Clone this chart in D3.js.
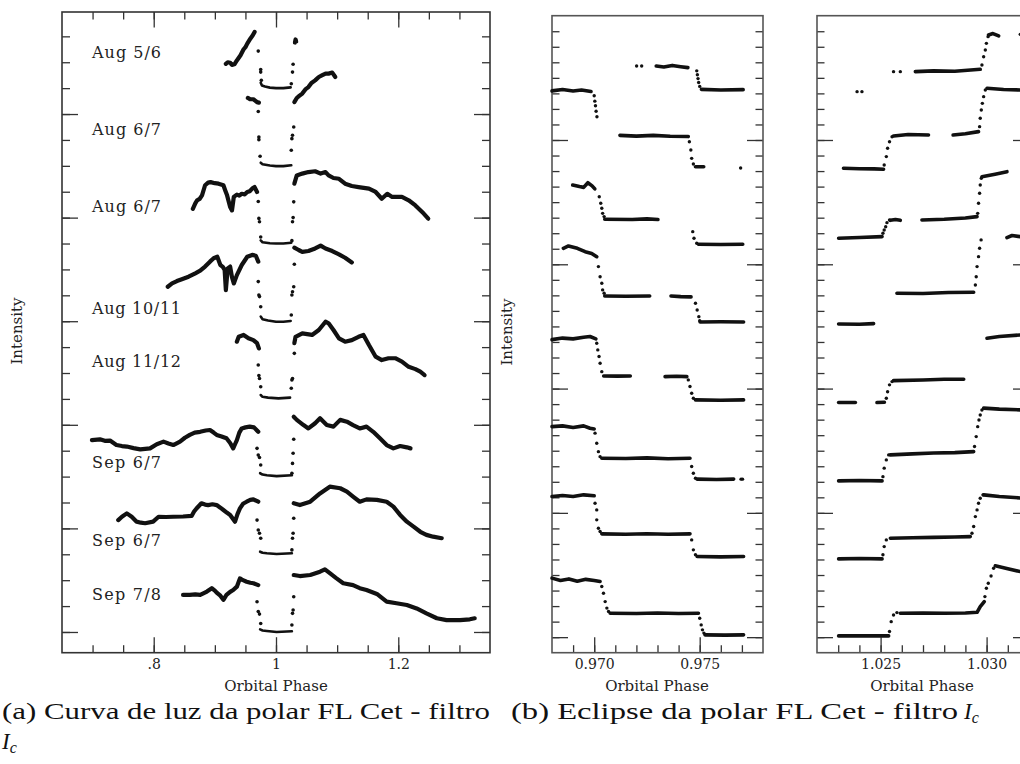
<!DOCTYPE html>
<html lang="en">
<head>
<meta charset="utf-8">
<title>FL Cet - curvas de luz</title>
<script src="https://cdn.jsdelivr.net/npm/d3@7"></script>
<style>
  body { margin: 0; background: #fff; }
  svg { display: block; }
  .pg { font-family: "DejaVu Serif", serif; fill: #222; }
  .cap { font-family: "Liberation Serif", "DejaVu Serif", serif; fill: #111; }
</style>
</head>
<body>
<script>
// ---------- data ----------
var nights = ["Aug 5/6", "Aug 6/7", "Aug 6/7", "Aug 10/11", "Aug 11/12", "Sep 6/7", "Sep 6/7", "Sep 7/8"];
var nightLabelAt = [22.39, 19.42, 16.45, 12.51, 10.46, 6.54, 3.55, 1.47];

// panel (a): [phase, intensity] per night
var preA = [
  [[0.918,21.94],[0.921,22.0],[0.925,21.98],[0.928,21.9],[0.932,21.92],[0.936,22.07],[0.942,22.27],[0.947,22.5],[0.95,22.58],[0.953,22.72],[0.958,22.91],[0.962,23.04],[0.965,23.17]],
  [[0.954,20.62],[0.958,20.57],[0.963,20.57],[0.967,20.5],[0.969,20.46],[0.972,20.44]],
  [[0.864,16.34],[0.868,16.55],[0.871,16.67],[0.875,16.72],[0.879,16.86],[0.884,17.25],[0.889,17.35],[0.893,17.37],[0.9,17.33],[0.906,17.31],[0.914,17.25],[0.917,17.05],[0.92,16.86],[0.925,16.41],[0.928,16.28],[0.931,16.8],[0.936,16.89],[0.94,16.85],[0.944,16.92],[0.949,16.9],[0.953,16.99],[0.957,17.02],[0.961,17.12],[0.965,17.18],[0.969,16.99]],
  [[0.823,13.33],[0.83,13.46],[0.838,13.55],[0.846,13.62],[0.857,13.72],[0.868,13.85],[0.876,13.95],[0.884,14.11],[0.892,14.3],[0.898,14.43],[0.904,14.49],[0.909,14.17],[0.913,14.1],[0.916,13.98],[0.918,13.2],[0.921,14.04],[0.925,14.11],[0.928,13.7],[0.931,13.46],[0.936,13.78],[0.944,14.17],[0.953,14.49],[0.961,14.56],[0.967,14.53],[0.971,14.3]],
  [[0.936,11.21],[0.939,11.4],[0.947,11.47],[0.955,11.34],[0.963,11.27],[0.969,11.15],[0.972,10.95]],
  [[0.699,7.41],[0.712,7.44],[0.72,7.38],[0.7285,7.39],[0.739,7.22],[0.748,7.18],[0.756,7.16],[0.767,7.1],[0.778,7.05],[0.794,7.09],[0.805,7.25],[0.816,7.35],[0.824,7.28],[0.832,7.22],[0.843,7.35],[0.851,7.5],[0.859,7.61],[0.867,7.7],[0.876,7.73],[0.885,7.78],[0.892,7.8],[0.898,7.7],[0.903,7.61],[0.911,7.55],[0.919,7.48],[0.925,7.3],[0.93,7.09],[0.933,7.25],[0.936,7.41],[0.94,7.7],[0.944,7.86],[0.95,7.9],[0.957,7.93],[0.964,7.9],[0.971,7.73]],
  [[0.742,4.32],[0.748,4.45],[0.756,4.58],[0.764,4.45],[0.772,4.26],[0.779,4.22],[0.786,4.2],[0.799,4.26],[0.808,4.45],[0.82,4.44],[0.832,4.45],[0.848,4.46],[0.862,4.48],[0.866,4.65],[0.87,4.77],[0.878,4.97],[0.884,4.92],[0.889,4.9],[0.896,4.93],[0.903,4.9],[0.909,4.8],[0.914,4.71],[0.92,4.6],[0.925,4.52],[0.933,4.26],[0.937,4.55],[0.941,4.77],[0.946,4.95],[0.952,5.03],[0.958,5.1],[0.963,5.12],[0.971,5.03]],
  [[0.848,1.43],[0.859,1.43],[0.868,1.45],[0.876,1.43],[0.882,1.5],[0.887,1.56],[0.895,1.69],[0.9,1.6],[0.903,1.52],[0.909,1.4],[0.914,1.24],[0.919,1.43],[0.925,1.55],[0.93,1.62],[0.936,1.75],[0.941,2.07],[0.946,2.0],[0.952,1.94],[0.958,1.9],[0.963,1.88],[0.971,1.81]]
];
var ingressA = [
  [[0.971,22.43],[0.975,21.72],[0.975,21.62],[0.976,21.3]],
  [[0.971,20.1],[0.972,19.11],[0.972,19.01],[0.974,18.37]],
  [[0.971,16.62],[0.972,15.97],[0.973,15.84],[0.975,15.25]],
  [[0.971,13.53],[0.972,13.01],[0.973,12.95],[0.975,12.56]],
  [[0.971,10.31],[0.972,9.9],[0.973,9.79],[0.975,9.47]],
  [[0.969,7.09],[0.971,6.83],[0.973,6.74],[0.975,6.45]],
  [[0.969,4.32],[0.971,3.94],[0.973,3.81],[0.975,3.62]],
  [[0.969,1.17],[0.971,0.79],[0.973,0.69],[0.975,0.33]]
];
var bottomA = [
  [[0.975,21.21],[0.977,21.1],[0.982,21.06],[0.99,21.02],[1.0,21.0],[1.012,21.0],[1.024,21.03]],
  [[0.975,18.12],[0.978,18.06],[0.99,18.01],[1.0,17.99],[1.012,17.99],[1.025,18.02]],
  [[0.975,15.12],[0.978,15.05],[0.99,15.01],[1.0,15.0],[1.012,15.0],[1.025,15.03]],
  [[0.975,12.18],[0.978,12.08],[0.987,12.03],[1.0,11.98],[1.012,11.98],[1.024,12.01]],
  [[0.975,9.15],[0.978,9.08],[0.987,9.05],[1.004,9.02],[1.023,9.05]],
  [[0.974,6.13],[0.978,6.08],[0.985,6.05],[1.001,6.02],[1.026,6.05]],
  [[0.974,3.1],[0.978,3.06],[0.985,3.04],[1.001,3.01],[1.026,3.04]],
  [[0.974,0.1],[0.978,0.06],[0.985,0.04],[1.001,0.0],[1.026,0.03]]
];
var egressA = [
  [[1.025,21.17],[1.027,21.62],[1.028,21.92]],
  [[1.025,18.6],[1.026,19.05],[1.027,19.18],[1.029,19.5]],
  [[1.026,15.11],[1.027,15.84],[1.028,16.0],[1.029,16.61]],
  [[1.025,12.24],[1.026,13.01],[1.027,13.14],[1.029,13.33],[1.03,14.2]],
  [[1.025,9.41],[1.026,9.73],[1.027,9.79],[1.03,10.76]],
  [[1.026,6.13],[1.027,6.51],[1.028,6.9],[1.029,7.44]],
  [[1.026,3.17],[1.027,3.62],[1.028,3.81],[1.029,4.39]],
  [[1.026,0.27],[1.027,0.72],[1.028,0.85],[1.029,1.36]]
];
var postA = [
  [[1.031,22.76],[1.032,22.88],[1.033,22.8]],
  [[1.03,20.46],[1.034,20.62],[1.038,20.7],[1.043,20.79],[1.048,20.95],[1.053,21.04],[1.058,21.2],[1.064,21.3],[1.07,21.43],[1.075,21.49],[1.081,21.56],[1.086,21.56],[1.092,21.6],[1.097,21.43]],
  [[1.03,17.31],[1.034,17.63],[1.043,17.7],[1.053,17.76],[1.064,17.79],[1.073,17.7],[1.081,17.76],[1.086,17.63],[1.094,17.53],[1.103,17.5],[1.113,17.31],[1.124,17.22],[1.135,17.18],[1.152,17.12],[1.163,16.99],[1.173,16.73],[1.182,16.92],[1.19,16.8],[1.206,16.8],[1.217,16.67],[1.228,16.47],[1.239,16.22],[1.249,15.96]],
  [[1.03,14.84],[1.037,14.75],[1.043,14.68],[1.053,14.71],[1.064,14.81],[1.073,14.92],[1.081,14.81],[1.092,14.71],[1.103,14.58],[1.113,14.45],[1.124,14.27]],
  [[1.03,11.15],[1.032,11.4],[1.043,11.53],[1.059,11.47],[1.07,11.66],[1.081,11.98],[1.086,11.92],[1.094,11.66],[1.103,11.34],[1.113,11.21],[1.124,11.27],[1.135,11.4],[1.143,11.47],[1.152,11.08],[1.163,10.63],[1.173,10.5],[1.184,10.57],[1.195,10.57],[1.206,10.44],[1.217,10.24],[1.228,10.15],[1.236,10.05],[1.243,9.92]],
  [[1.029,8.31],[1.034,8.19],[1.045,7.99],[1.053,7.86],[1.064,8.06],[1.072,8.25],[1.083,7.99],[1.094,7.93],[1.105,8.19],[1.116,8.12],[1.126,7.99],[1.137,7.86],[1.148,7.93],[1.159,7.73],[1.17,7.48],[1.181,7.22],[1.192,7.09],[1.203,7.18],[1.214,7.13],[1.22,7.09]],
  [[1.029,4.97],[1.039,4.9],[1.056,5.03],[1.072,5.35],[1.088,5.61],[1.105,5.55],[1.116,5.42],[1.126,5.23],[1.137,5.03],[1.148,5.12],[1.165,5.1],[1.181,5.03],[1.192,4.84],[1.203,4.52],[1.214,4.26],[1.225,4.07],[1.236,3.87],[1.246,3.75],[1.257,3.68],[1.271,3.62]],
  [[1.029,2.2],[1.039,2.16],[1.056,2.2],[1.072,2.33],[1.08,2.42],[1.088,2.27],[1.099,2.07],[1.11,1.88],[1.126,1.81],[1.137,1.69],[1.148,1.62],[1.165,1.47],[1.181,1.17],[1.197,1.11],[1.214,1.04],[1.23,0.91],[1.246,0.72],[1.263,0.53],[1.279,0.46],[1.301,0.46],[1.317,0.49],[1.325,0.53]]
];

// panel (b), ingress zoom: continuous runs and isolated points per night
var ingRuns = [
  [[[0.97294,36.76],[0.9733,36.7],[0.9737,36.8],[0.9741,36.72],[0.97444,36.66]], [[0.97508,35.26],[0.976,35.22],[0.97706,35.24]]],
  [[[0.968,35.16],[0.9685,35.25],[0.969,35.15],[0.9694,35.22],[0.96985,35.12]], [[0.97122,32.3],[0.972,32.25],[0.9728,32.3],[0.9736,32.24],[0.97446,32.22]], [[0.9748,30.28],[0.97519,30.28]]],
  [[[0.96898,29.1],[0.9693,29.0],[0.9695,28.95],[0.9697,29.25],[0.9699,29.05],[0.97003,28.85]], [[0.9705,26.9],[0.9718,26.88],[0.9725,26.92],[0.97302,26.88]], [[0.97494,25.29],[0.976,25.27],[0.97704,25.29]]],
  [[[0.96854,25.03],[0.96878,25.18],[0.9692,25.03],[0.96957,24.81],[0.96988,24.7],[0.97012,24.49]], [[0.9705,21.96],[0.9715,21.94],[0.97263,21.96]], [[0.97364,21.96],[0.9741,21.92],[0.97459,21.9]], [[0.97502,20.29],[0.976,20.3],[0.97708,20.29]]],
  [[[0.968,19.15],[0.9685,19.25],[0.969,19.2],[0.9695,19.3],[0.9698,19.35],[0.97008,19.2]], [[0.97045,16.81],[0.9711,16.8],[0.97171,16.81]], [[0.97336,16.77],[0.9739,16.79],[0.97439,16.77]], [[0.9748,15.27],[0.976,15.25],[0.97708,15.27]]],
  [[[0.968,13.55],[0.9685,13.6],[0.969,13.5],[0.9695,13.6],[0.9698,13.45],[0.97,13.4]], [[0.97036,11.52],[0.9715,11.5],[0.9725,11.54],[0.9735,11.48],[0.97454,11.52]], [[0.97488,10.17],[0.9758,10.15],[0.97661,10.17]]],
  [[[0.968,9.05],[0.9685,9.12],[0.969,9.05],[0.9695,9.16],[0.97,9.1]], [[0.97036,6.65],[0.9715,6.62],[0.9725,6.66],[0.9735,6.62],[0.97454,6.65]], [[0.97488,5.19],[0.976,5.17],[0.97708,5.19]]],
  [[[0.968,3.8],[0.9684,3.65],[0.9688,3.75],[0.9692,3.6],[0.9696,3.72],[0.97,3.65],[0.97028,3.58]], [[0.97076,1.54],[0.972,1.52],[0.973,1.56],[0.974,1.52],[0.97494,1.54]], [[0.97525,0.15],[0.9762,0.13],[0.97708,0.15]]]
];
var ingPts = [
  [[0.97201,36.76],[0.97225,36.76],[0.97486,36.45],[0.97489,36.2],[0.97492,35.95],[0.97495,35.7],[0.975,35.45]],
  [[0.97,34.85],[0.97003,34.5],[0.97006,34.2],[0.97009,33.85],[0.97013,33.5],[0.97451,31.89],[0.97458,31.36],[0.97462,30.82],[0.9747,30.45],[0.97694,30.2]],
  [[0.97024,28.35],[0.97031,27.93],[0.97036,27.61],[0.9704,27.28],[0.97047,27.07],[0.97467,26.1],[0.97473,25.68],[0.97486,25.35]],
  [[0.9702,23.85],[0.97028,23.2],[0.97036,22.78],[0.9704,22.35],[0.97047,22.14],[0.9748,21.49],[0.97488,21.06],[0.97496,20.63],[0.975,20.37]],
  [[0.97012,18.92],[0.97017,18.49],[0.97023,18.06],[0.97028,17.63],[0.97036,17.09],[0.97446,16.56],[0.97454,16.13],[0.97462,15.7],[0.9747,15.38]],
  [[0.97004,13.13],[0.97012,12.48],[0.9702,11.94],[0.97028,11.62],[0.97462,10.98],[0.9747,10.55],[0.9748,10.23],[0.97696,10.17],[0.97703,10.17]],
  [[0.97004,8.62],[0.97012,8.19],[0.97012,7.55],[0.9702,7.01],[0.97028,6.8],[0.97462,6.26],[0.9747,5.62],[0.9748,5.3]],
  [[0.97036,3.26],[0.97044,2.83],[0.97052,2.29],[0.9706,1.87],[0.97068,1.65],[0.975,1.22],[0.97507,0.79],[0.97513,0.47],[0.9752,0.26]]
];

// panel (b), egress zoom
var egrRuns = [
  [[[1.02664,36.4],[1.0275,36.45],[1.0285,36.42],[1.0297,36.55]], [[1.03009,38.76],[1.0303,38.85],[1.03057,38.7]]],
  [[[1.02325,30.18],[1.024,30.15],[1.0247,30.14],[1.02514,30.12]], [[1.02561,32.26],[1.0263,32.35],[1.02726,32.32]], [[1.02842,32.32],[1.029,32.4],[1.02962,32.54]], [[1.03002,35.33],[1.0308,35.25],[1.0316,35.22]]],
  [[[1.02302,25.68],[1.024,25.72],[1.02507,25.78]], [[1.02546,26.83],[1.0257,26.88],[1.02593,26.83]], [[1.02695,26.85],[1.028,26.9],[1.029,26.98],[1.02955,27.07]], [[1.02978,29.64],[1.0304,29.8],[1.03096,29.96]]],
  [[[1.02302,20.16],[1.024,20.14],[1.02467,20.18]], [[1.02577,22.14],[1.027,22.12],[1.0282,22.18],[1.02939,22.2]], [[1.03096,25.72],[1.0312,25.85],[1.03159,25.78]]],
  [[[1.02302,15.1],[1.02381,15.1]], [[1.02483,15.1],[1.02518,15.12]], [[1.02561,16.51],[1.027,16.55],[1.028,16.6],[1.02892,16.6]], [[1.03002,19.24],[1.0306,19.35],[1.03159,19.45]]],
  [[[1.02302,10.06],[1.024,10.08],[1.02507,10.06]], [[1.02546,11.73],[1.0265,11.8],[1.0275,11.85],[1.0285,11.88],[1.02939,11.94]], [[1.02986,14.74],[1.0306,14.68],[1.03159,14.63]]],
  [[[1.02302,5.04],[1.024,5.06],[1.02507,5.04]], [[1.02546,6.37],[1.0265,6.4],[1.0275,6.42],[1.0285,6.45],[1.02923,6.47]], [[1.02986,9.16],[1.0306,9.05],[1.03159,8.96]]],
  [[[1.02302,0.08],[1.0242,0.08],[1.02538,0.08]], [[1.02593,1.54],[1.027,1.56],[1.028,1.54],[1.029,1.56],[1.02955,1.6],[1.0297,1.97],[1.02989,2.29]], [[1.03041,4.59],[1.031,4.4],[1.03159,4.22]]]
];
var egrPts = [
  [[1.02389,35.11],[1.02412,35.11],[1.02561,36.4],[1.02593,36.4],[1.02978,36.83],[1.02986,37.36],[1.02994,37.79],[1.02999,38.22],[1.03007,38.65],[1.03159,38.8]],
  [[1.02517,30.39],[1.02527,30.93],[1.02533,31.47],[1.02542,31.89],[1.02554,32.21],[1.02967,32.86],[1.0297,33.4],[1.02975,33.93],[1.0298,34.36],[1.02986,34.79],[1.02994,35.22]],
  [[1.02511,26.0],[1.02517,26.21],[1.02524,26.42],[1.0253,26.68],[1.02542,26.85],[1.02958,27.28],[1.02962,27.93],[1.02967,28.57],[1.0297,29.1],[1.02975,29.54]],
  [[1.02947,22.67],[1.02951,23.2],[1.02955,23.85],[1.02962,24.49],[1.02967,25.03],[1.02974,25.57]],
  [[1.02527,15.38],[1.02533,15.8],[1.02542,16.24],[1.02554,16.45]],
  [[1.02511,10.33],[1.02517,10.88],[1.02527,11.41],[1.02538,11.73],[1.02943,12.27],[1.02951,12.91],[1.02958,13.55],[1.02964,13.98],[1.0297,14.3],[1.02978,14.62]],
  [[1.02511,5.3],[1.02517,5.83],[1.02527,6.26],[1.02931,6.69],[1.02939,7.12],[1.02947,7.76],[1.02955,8.19],[1.02962,8.62],[1.0297,8.94],[1.02983,9.16]],
  [[1.02542,0.36],[1.0255,1.0],[1.02561,1.43],[1.02577,1.58],[1.02992,2.61],[1.02999,3.15],[1.03008,3.47],[1.03021,3.94],[1.03033,4.44]]
];

// ticks
var phaseMinorA = [0.7,0.75,0.8,0.85,0.9,0.95,1.0,1.05,1.1,1.15,1.2,1.25,1.3];
var phaseMajorA = [0.8, 1.0, 1.2];
var phaseLabelsA = [".8", "1", "1.2"];
var phaseMinorB1 = [0.969,0.970,0.971,0.972,0.973,0.974,0.975,0.976,0.977];
var phaseMajorB1 = [0.970, 0.975];
var phaseLabelsB1 = ["0.970", "0.975"];
var phaseMinorB2 = [1.023,1.024,1.025,1.026,1.027,1.028,1.029,1.030,1.031];
var phaseMajorB2 = [1.025, 1.030];
var phaseLabelsB2 = ["1.025", "1.030"];

// ---------- drawing ----------
var svg = d3.select("body").append("svg").attr("width", 1020).attr("height", 764);
svg.append("rect").attr("width", 1020).attr("height", 764).attr("fill", "#fff");

var xa = d3.scaleLinear().domain([0.65, 1.35]).range([62, 490]);
var ya = d3.scaleLinear().domain([-0.8, 23.94]).range([652.7, 12]);
var xb1 = d3.scaleLinear().domain([0.968, 0.978]).range([552, 763]);
var xb2 = d3.scaleLinear().domain([1.022, 1.032]).range([817, 1029]);
var yb = d3.scaleLinear().domain([-1, 40]).range([652.7, 15.7]);

function ax(g, axis, vals, size, fmt, pad) {
  g.call(axis.tickValues(vals).tickSize(size).tickPadding(pad || 3).tickFormat(fmt || ""));
  g.attr("font-family", null).attr("font-size", null);
  g.select(".domain").remove();
  g.selectAll(".tick line").attr("stroke", "#333").attr("stroke-width", 1.3);
  g.selectAll(".tick text").attr("class", "pg").style("font-size", "14px").attr("fill", "#222");
}

function panel(x, y, opt) {
  var g = svg.append("g");
  var x0 = x.range()[0], x1 = x.range()[1], y0 = y.range()[1], y1 = y.range()[0];
  var yMinor = opt.yMinor, yMajor = opt.yMajor;
  // left / right ticks
  ax(g.append("g").attr("transform", "translate(" + x0 + ",0)"), d3.axisLeft(y), yMinor, -opt.tMinor);
  ax(g.append("g").attr("transform", "translate(" + x0 + ",0)"), d3.axisLeft(y), yMajor, -opt.tMajor);
  ax(g.append("g").attr("transform", "translate(" + x1 + ",0)"), d3.axisRight(y), yMinor, -opt.tMinor);
  ax(g.append("g").attr("transform", "translate(" + x1 + ",0)"), d3.axisRight(y), yMajor, -opt.tMajor);
  // bottom ticks + labels
  ax(g.append("g").attr("transform", "translate(0," + y1 + ")"), d3.axisBottom(x), opt.xMinor, -7.5);
  ax(g.append("g").attr("transform", "translate(0," + y1 + ")"), d3.axisBottom(x), opt.xMajor, -15.5,
     function(d, i) { return opt.xLabels[i]; }, 6);
  if (opt.topTicks) {
    ax(g.append("g").attr("transform", "translate(0," + y0 + ")"), d3.axisTop(x), opt.xMinor, -7.5);
    ax(g.append("g").attr("transform", "translate(0," + y0 + ")"), d3.axisTop(x), opt.xMajor, -15.5);
  }
  g.append("rect").attr("x", x0).attr("y", y0).attr("width", x1 - x0).attr("height", y1 - y0)
    .attr("fill", "none").attr("stroke", opt.frame).attr("stroke-width", 1.6);
  g.append("text").attr("class", "pg").style("font-size", "15px")
    .attr("x", opt.titleX).attr("y", 691).attr("text-anchor", "middle")
    .text("Orbital Phase");
  return g;
}

var pa = panel(xa, ya, { yMinor: d3.range(0, 24), yMajor: [0, 4, 8, 12, 16, 20], tMinor: 8, tMajor: 16,
  xMinor: phaseMinorA, xMajor: phaseMajorA, xLabels: phaseLabelsA, topTicks: true, frame: "#333", titleX: 276 });
var pb1 = panel(xb1, yb, { yMinor: d3.range(0, 40), yMajor: [0, 8, 16, 24, 32], tMinor: 7.5, tMajor: 16,
  xMinor: phaseMinorB1, xMajor: phaseMajorB1, xLabels: phaseLabelsB1, topTicks: false, frame: "#555", titleX: 657 });
var pb2 = panel(xb2, yb, { yMinor: d3.range(0, 40), yMajor: [0, 8, 16, 24, 32], tMinor: 7.5, tMajor: 16,
  xMinor: phaseMinorB2, xMajor: phaseMajorB2, xLabels: phaseLabelsB2, topTicks: false, frame: "#555", titleX: 922 });

// y titles
[[22, 331], [512, 332]].forEach(function(p) {
  svg.append("text").attr("class", "pg").style("font-size", "15px")
    .attr("transform", "translate(" + p[0] + "," + p[1] + ") rotate(-90)")
    .attr("text-anchor", "middle").text("Intensity");
});

// panel (a) curves
var lineA = d3.line().x(function(d) { return xa(d[0]); }).y(function(d) { return ya(d[1]); });
var curvesA = pa.append("g").attr("fill", "none").attr("stroke", "#111")
  .attr("stroke-linejoin", "round").attr("stroke-linecap", "round");
preA.concat(postA).forEach(function(c) {
  curvesA.append("path").attr("d", lineA(c)).attr("stroke-width", 4.2);
});
bottomA.forEach(function(c) {
  curvesA.append("path").attr("d", lineA(c)).attr("stroke-width", 2.6);
});
ingressA.concat(egressA).forEach(function(c) {
  pa.selectAll(null).data(c).enter().append("circle")
    .attr("cx", function(d) { return xa(d[0]); }).attr("cy", function(d) { return ya(d[1]); })
    .attr("r", 1.8).attr("fill", "#111");
});
nights.forEach(function(n, i) {
  pa.append("text").attr("class", "pg").style("font-size", "16px")
    .attr("x", 92).attr("y", ya(nightLabelAt[i])).attr("dy", "0.35em")
    .attr("textLength", n.length * 10 - 1).attr("lengthAdjust", "spacing")
    .text(n);
});

// panel (b) curves
function drawZoom(g, x, runs, pts) {
  var line = d3.line().x(function(d) { return x(d[0]); }).y(function(d) { return yb(d[1]); });
  var cg = g.append("g").attr("fill", "none").attr("stroke", "#111").attr("stroke-width", 3.6)
    .attr("stroke-linejoin", "round").attr("stroke-linecap", "round");
  runs.forEach(function(night) {
    night.forEach(function(r) { cg.append("path").attr("d", line(r)); });
  });
  pts.forEach(function(night) {
    g.selectAll(null).data(night).enter().append("circle")
      .attr("cx", function(d) { return x(d[0]); }).attr("cy", function(d) { return yb(d[1]); })
      .attr("r", 1.7).attr("fill", "#111");
  });
}
drawZoom(pb1, xb1, ingRuns, ingPts);
drawZoom(pb2, xb2, egrRuns, egrPts);

// captions
svg.append("text").attr("class", "cap").style("font-size", "23px").attr("x", 2).attr("y", 719)
  .attr("textLength", 488).attr("lengthAdjust", "spacingAndGlyphs")
  .text("(a) Curva de luz da polar FL Cet - filtro");
var l2 = svg.append("text").attr("class", "cap").style("font-size", "23px").attr("x", 2).attr("y", 749);
l2.append("tspan").attr("font-style", "italic").text("I");
l2.append("tspan").style("font-size", "16px").attr("dy", 4).attr("font-style", "italic").text("c");

var cb = svg.append("text").attr("class", "cap").style("font-size", "23px").attr("y", 719);
cb.append("tspan").attr("x", 511).attr("textLength", 447).attr("lengthAdjust", "spacingAndGlyphs")
  .text("(b) Eclipse da polar FL Cet - filtro");
cb.append("tspan").attr("x", 964).attr("font-style", "italic").text("I");
cb.append("tspan").style("font-size", "16px").attr("dy", 4).attr("font-style", "italic").text("c");
</script>
</body>
</html>
